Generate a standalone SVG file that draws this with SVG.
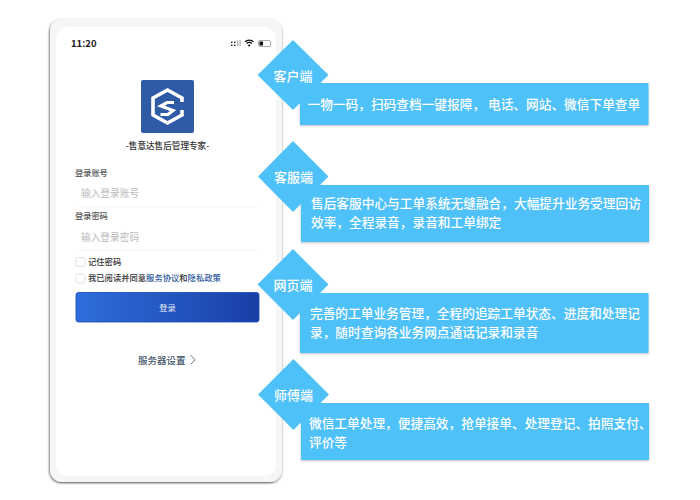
<svg xmlns="http://www.w3.org/2000/svg" width="700" height="500" viewBox="0 0 700 500">
<style>
text{font-family:"Noto Sans CJK SC","Liberation Sans",sans-serif}
.d{fill:#4fc1f9;filter:url(#s)}
.m{fill:#4fc1f9}
.t{fill:#fff;font-size:12.7px;font-weight:500}
.l{fill:#fff;font-size:13px;font-weight:500;text-anchor:middle}
.f{fill:#555;font-size:8.2px;font-weight:500}
.p{fill:#bbb;font-size:9.7px}
.c{fill:#fff;stroke:#dcdcdc;stroke-width:.8}
.u{stroke:#f6f6f6;stroke-width:1}
</style>
<defs>
<filter id="s" x="-10%" y="-10%" width="120%" height="120%"><feDropShadow dx="0" dy="1" stdDeviation="1" flood-color="#000" flood-opacity=".25"/></filter>
<filter id="ps" x="-5%" y="-5%" width="110%" height="110%"><feDropShadow dx="-.5" dy="1" stdDeviation="1" flood-color="#000" flood-opacity=".7"/></filter>
<linearGradient id="b" x1="0" x2="1" y1="0" y2="0"><stop offset="0" stop-color="#2e6edb"/><stop offset="1" stop-color="#1a3fa6"/></linearGradient>
</defs>
<g id="phone">
<rect x="50" y="19" width="232" height="463" rx="12" fill="#f5f6f6" filter="url(#ps)"/>
<rect x="56" y="27" width="220" height="449" rx="12" fill="#fff"/>
<text x="71" y="47" font-size="9.500" font-weight="700" fill="#222" font-family="Roboto,'Liberation Sans',sans-serif">11:20</text>
<g fill="#333"><rect x="231" y="41.500" width="1.500" height="1.500"/><rect x="231" y="44.500" width="1.500" height="1.500"/><rect x="234" y="41.500" width="1.500" height="1.500"/><rect x="234" y="44.500" width="1.500" height="1.500"/></g>
<g fill="#aaa"><rect x="237" y="40.500" width="1.200" height="5.500"/><rect x="239.500" y="40" width="1.200" height="6"/></g>
<path d="M245 41.800a6.500 6.500 0 0 1 8.500 0M246.600 43.600a4 4 0 0 1 5.300 0" fill="none" stroke="#111" stroke-width="1.300"/><circle cx="249.200" cy="45.500" r="1.100" fill="#111"/>
<rect x="258.500" y="40.500" width="12" height="6" rx="1.500" fill="#fff" stroke="#888" stroke-width=".7"/><rect x="259.500" y="41.500" width="3.500" height="4" fill="#111"/>
</g>
<g id="logo">
<rect x="141" y="80" width="53" height="53" rx="2" fill="#2f5aa6"/>
<path d="M182 102V98L167.500 90L153 98V115L167.500 123L182 115V110" fill="none" stroke="#fff" stroke-width="3.600"/>
<path d="M174 102.500H167L160.800 106L173 110.500L168 114.500H160.500" fill="none" stroke="#fff" stroke-width="3.200"/>
<text x="167.500" y="149" font-size="8.600" font-weight="500" fill="#333" text-anchor="middle">-售意达售后管理专家-</text>
</g>
<g id="form">
<text x="75" y="176" class="f">登录账号</text>
<text x="81" y="197" class="p">输入登录账号</text>
<line x1="76" x2="259" y1="207" y2="207" class="u"/>
<text x="75" y="219" class="f">登录密码</text>
<text x="81" y="240.500" class="p">输入登录密码</text>
<line x1="76" x2="259" y1="250" y2="250" class="u"/>
<rect x="76" y="257.500" width="9" height="9" rx="1.500" class="c"/>
<text x="88" y="264.500" font-size="8.300" font-weight="500" fill="#333">记住密码</text>
<rect x="76" y="274" width="9" height="9" rx="1.500" class="c"/>
<text x="88" y="281" font-size="8.300" font-weight="500" fill="#333">我已阅读并同意<tspan fill="#2d5a9e">服务协议</tspan>和<tspan fill="#2d5a9e">隐私政策</tspan></text>
</g>
<g id="login-button">
<rect x="76" y="292.500" width="183" height="29.500" rx="2.500" fill="url(#b)" stroke="#1645b5" stroke-width=".8"/>
<text x="167.500" y="311" font-size="8.300" fill="#e4ecf8" text-anchor="middle">登录</text>
</g>
<g id="server-settings">
<text x="138" y="363.500" font-size="9.500" font-weight="500" fill="#45566b">服务器设置</text>
<path d="M190.500 355L195 359.800L190.500 364.500" fill="none" stroke="#45566b" stroke-width=".8"/>
</g>
<g id="client">
<rect x="300" y="83" width="348.500" height="42" class="d"/>
<path d="M293 40L328.500 75L293 110L257.500 75Z" class="m"/>
<text x="293" y="80.500" class="l">客户端</text>
<text x="307.500" y="109" class="t">一物一码，扫码查档一键报障， 电话、网站、微信下单查单</text>
</g>
<g id="service">
<rect x="301" y="185" width="348" height="57" class="d"/>
<path d="M293 141L328.500 176.500L293 212L258 176.500Z" class="m"/>
<text x="293.500" y="181.500" class="l">客服端</text>
<text x="311" y="208" class="t">售后客服中心与工单系统无缝融合，大幅提升业务受理回访</text>
<text x="311" y="227" class="t">效率，全程录音，录音和工单绑定</text>
</g>
<g id="web">
<rect x="300" y="293" width="348.500" height="60" class="d"/>
<path d="M293 249L328.500 284.500L293 320L257.500 284.500Z" class="m"/>
<text x="293" y="289.500" class="l">网页端</text>
<text x="310" y="318" class="t">完善的工单业务管理，全程的追踪工单状态、进度和处理记</text>
<text x="310" y="337" class="t">录，随时查询各业务网点通话记录和录音</text>
</g>
<g id="worker">
<rect x="301" y="403" width="348" height="57" class="d"/>
<path d="M293.500 359L329 394.500L293.500 430L258 394.500Z" class="m"/>
<text x="293.500" y="399.500" class="l">师傅端</text>
<text x="309" y="428" class="t">微信工单处理，便捷高效，抢单接单、处理登记、拍照支付、</text>
<text x="309" y="447" class="t">评价等</text>
</g>
</svg>
